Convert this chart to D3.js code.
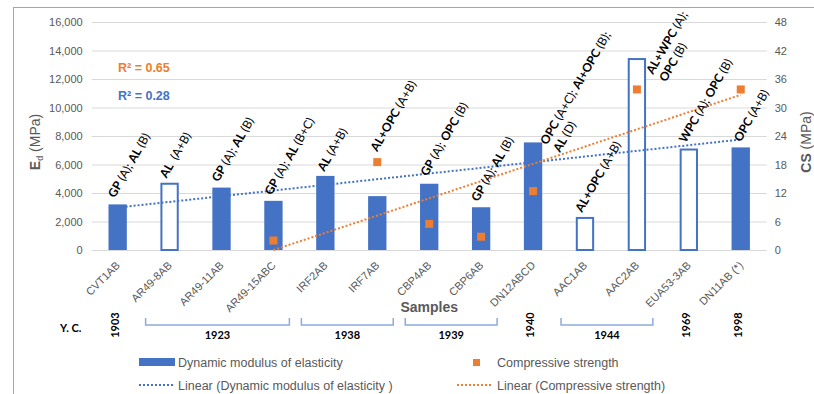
<!DOCTYPE html>
<html>
<head>
<meta charset="utf-8">
<script src="https://cdn.jsdelivr.net/npm/d3@7"></script>
<style>
    body { margin: 0; background: #fff; }
    svg text { font-family: "Liberation Sans", Arial, sans-serif; fill: #595959; }
    .note text, .years text { font-family: Lato, "Open Sans", sans-serif; fill: #000; white-space: pre; }
</style>
</head>
<body>
<div id="chart"></div>
<script>
// sample names along the x axis
var samples = ["CVT1AB", "AR49-8AB", "AR49-11AB", "AR49-15ABC", "IRF2AB", "IRF7AB", "CBP4AB",
    "CBP6AB", "DN12ABCD", "AAC1AB", "AAC2AB", "EUA53-3AB", "DN11AB (*)"];

// dynamic modulus of elasticity (MPa), left axis
var modulus = [3200, 4650, 4380, 3450, 5200, 3780, 4650, 3000, 7550, 2250, 13400, 7050, 7200];

// which bars are drawn as outlines only
var hollow = [false, true, false, false, false, false, false, false, false, true, true, true, false];

// compressive strength (MPa), right axis, null = not tested
var strength = [null, null, null, 2.0, null, 18.5, 5.5, 2.8, 12.4, null, 33.8, null, 33.8];

// mortar notes above the bars, **bold**
var notes = [
    "**GP** (A); **AL** (B)",
    "**AL**  (A+B)",
    "**GP** (A); **AL** (B)",
    "**GP** (A); **AL** (B+C)",
    "**AL** (A+B)",
    "**AL+OPC** (A+B)",
    "**GP** (A); **OPC** (B)",
    "**GP** (A); **AL** (B)",
    "**OPC** (A+C); **AI+OPC** (B);\n**AL** (D)",
    "**AL+OPC** (A+B)",
    "**AL+WPC** (A);\n**OPC** (B)",
    "**WPC** (A); **OPC** (B)",
    "**OPC** (A+B)"
];

// year of construction, by sample index range
var yearLabels = ["1903", "1923", "1938", "1939", "1940", "1944", "1969", "1998"];
var yearFrom = [0, 1, 4, 6, 8, 9, 11, 12];
var yearTo = [0, 3, 5, 7, 8, 10, 11, 12];

var r2Strength = "0.65";
var r2Modulus = "0.28";

var leftTicks = d3.range(0, 16001, 2000);
var rightTicks = d3.range(0, 49, 6);

// layout
var svgWidth = 814;
var svgHeight = 394;
var plot = { left: 91.7, right: 766.7, top: 22, bottom: 250 };
var blue = "#4472c4";
var orange = "#ed7d31";

// where each note starts, relative to the bar top centre
var noteShift = [[-3, -6], [-3, -5], [-3, -5], [-2, -5], [-1, -4], [0, -44], [-2, -7],
    [-3, -5], [14, 3], [-3, -5], [16, 16], [-3, -6], [0, -5]];

var svg = d3.select("#chart")
    .append("svg")
    .attr("width", svgWidth)
    .attr("height", svgHeight);

svg.append("rect")
    .attr("x", 13.5).attr("y", 7.5)
    .attr("width", 900).attr("height", 500)
    .attr("fill", "#fff")
    .attr("stroke", "#a6a6a6");

var x = d3.scaleBand().domain(samples).range([plot.left, plot.right]).padding(0);
var yLeft = d3.scaleLinear().domain([0, 16000]).range([plot.bottom, plot.top]);
var yRight = d3.scaleLinear().domain([0, 48]).range([plot.bottom, plot.top]);
var barW = x.bandwidth() * 0.353;
var cx = function (i) { return x(samples[i]) + x.bandwidth() / 2; };

// left axis with gridlines
var leftAxis = svg.append("g")
    .attr("transform", `translate(${plot.left},0)`)
    .call(d3.axisLeft(yLeft).tickValues(leftTicks).tickFormat(d3.format(","))
        .tickSizeInner(-(plot.right - plot.left)).tickSizeOuter(0).tickPadding(9));
leftAxis.select(".domain").remove();
leftAxis.selectAll("line").attr("stroke", "#d9d9d9");
leftAxis.selectAll("text").attr("font-size", 11).attr("fill", "#595959");

var rightAxis = svg.append("g")
    .attr("transform", `translate(${plot.right},0)`)
    .call(d3.axisRight(yRight).tickValues(rightTicks).tickSize(0).tickPadding(8));
rightAxis.select(".domain").remove();
rightAxis.selectAll("text").attr("font-size", 11).attr("fill", "#595959");

var bottomAxis = svg.append("g")
    .attr("transform", `translate(0,${plot.bottom})`)
    .call(d3.axisBottom(x).tickSize(0));
bottomAxis.select(".domain").remove();
bottomAxis.selectAll("text")
    .attr("font-size", 11)
    .attr("fill", "#595959")
    .attr("x", 0).attr("y", 0).attr("dy", 0)
    .attr("text-anchor", "end")
    .attr("transform", "translate(3,16) rotate(-45)");

// bars
svg.selectAll("rect.bar")
    .data(modulus)
    .enter()
    .append("rect")
    .attr("class", "bar")
    .attr("x", (d, i) => cx(i) - barW / 2 + (hollow[i] ? 1 : 0))
    .attr("width", (d, i) => barW - (hollow[i] ? 2 : 0))
    .attr("y", d => yLeft(d))
    .attr("height", d => plot.bottom - yLeft(d))
    .attr("fill", (d, i) => hollow[i] ? "#fff" : blue)
    .attr("stroke", blue)
    .attr("stroke-width", (d, i) => hollow[i] ? 2 : 0);

// linear trendlines (least squares on category number, like Excel)
function trend(values) {
    var pts = [];
    values.forEach(function (v, i) { if (v !== null) pts.push([i + 1, v]); });
    var mx = d3.mean(pts, p => p[0]);
    var my = d3.mean(pts, p => p[1]);
    var sxy = d3.sum(pts, p => (p[0] - mx) * (p[1] - my));
    var sxx = d3.sum(pts, p => (p[0] - mx) * (p[0] - mx));
    var slope = sxy / sxx;
    var first = pts[0][0], last = pts[pts.length - 1][0];
    return [[first - 1, my + slope * (first - mx)], [last - 1, my + slope * (last - mx)]];
}

var modTrend = trend(modulus);
var csTrend = trend(strength);

svg.append("path")
    .attr("d", d3.line().x(p => cx(p[0])).y(p => yLeft(p[1]))(modTrend))
    .attr("stroke", blue).attr("stroke-width", 2).attr("stroke-dasharray", "2,2").attr("fill", "none");

svg.append("path")
    .attr("d", d3.line().x(p => cx(p[0])).y(p => yRight(p[1]))(csTrend))
    .attr("stroke", orange).attr("stroke-width", 2).attr("stroke-dasharray", "2,2").attr("fill", "none");

// compressive strength markers
svg.selectAll("rect.cs")
    .data(strength.map((v, i) => ({ v: v, i: i })).filter(d => d.v !== null))
    .enter()
    .append("rect")
    .attr("class", "cs")
    .attr("x", d => cx(d.i) - 4)
    .attr("y", d => yRight(d.v) - 4)
    .attr("width", 8).attr("height", 8)
    .attr("fill", orange);

// notes
function richLine(textSel, str) {
    str.split("**").forEach(function (part, k) {
        if (!part) return;
        textSel.append("tspan").attr("font-weight", k % 2 ? "bold" : "normal").text(part);
    });
}

var noteGroup = svg.append("g").attr("class", "note");
notes.forEach(function (n, i) {
    var g = noteGroup.append("g")
        .attr("transform", `translate(${cx(i) + noteShift[i][0]},${yLeft(modulus[i]) + noteShift[i][1]}) rotate(-60)`);
    n.split("\n").forEach(function (line, li) {
        var t = g.append("text").attr("x", 0).attr("y", li * 15).attr("font-size", 12);
        richLine(t, line);
    });
});

// R squared
svg.append("text").attr("x", 118).attr("y", 72)
    .attr("font-family", "Lato, sans-serif").attr("font-weight", "bold").attr("font-size", 12.5)
    .style("fill", orange).text("R² = " + r2Strength);
svg.append("text").attr("x", 118).attr("y", 100)
    .attr("font-family", "Lato, sans-serif").attr("font-weight", "bold").attr("font-size", 12.5)
    .style("fill", blue).text("R² = " + r2Modulus);

// axis titles
var yTitle = svg.append("text")
    .attr("transform", "translate(40,142) rotate(-90)")
    .attr("text-anchor", "middle").attr("font-size", 14);
yTitle.append("tspan").attr("font-weight", "bold").text("E");
yTitle.append("tspan").attr("font-size", 9).attr("dy", 3).text("d");
yTitle.append("tspan").attr("dy", -3).text(" (MPa)");

var y2Title = svg.append("text")
    .attr("transform", "translate(811,142) rotate(-90)")
    .attr("text-anchor", "middle").attr("font-size", 14);
y2Title.append("tspan").attr("font-weight", "bold").text("CS");
y2Title.append("tspan").text(" (MPa)");

svg.append("text")
    .attr("x", (plot.left + plot.right) / 2).attr("y", 312)
    .attr("text-anchor", "middle").attr("font-size", 14).attr("font-weight", "bold")
    .text("Samples");

// year of construction row
var yearGroup = svg.append("g").attr("class", "years");
yearGroup.append("text").attr("x", 60).attr("y", 332)
    .attr("font-size", 11).attr("font-weight", "bold").text("Y. C.");

yearLabels.forEach(function (yr, k) {
    if (yearFrom[k] === yearTo[k]) {
        yearGroup.append("text")
            .attr("transform", `translate(${cx(yearFrom[k]) + 1},325) rotate(-90)`)
            .attr("text-anchor", "middle").attr("font-size", 11).attr("font-weight", "bold")
            .text(yr);
    } else {
        var x0 = x(samples[yearFrom[k]]) + 2;
        var x1 = x(samples[yearTo[k]]) + x.bandwidth() - 10;
        yearGroup.append("path")
            .attr("d", `M${x0},318V325H${x1}V318`)
            .attr("fill", "none").attr("stroke", "#8faadc").attr("stroke-width", 1.5);
        yearGroup.append("text")
            .attr("x", (x0 + x1) / 2).attr("y", 339)
            .attr("text-anchor", "middle").attr("font-size", 11).attr("font-weight", "bold")
            .text(yr);
    }
});

// legend
var legend = svg.append("g").attr("font-size", 12.5);
legend.append("rect").attr("x", 139).attr("y", 358).attr("width", 36).attr("height", 8).attr("fill", blue);
legend.append("text").attr("x", 178).attr("y", 366.5).text("Dynamic modulus of elasticity");
legend.append("line").attr("x1", 139).attr("x2", 175).attr("y1", 385).attr("y2", 385)
    .attr("stroke", blue).attr("stroke-width", 2).attr("stroke-dasharray", "2,2");
legend.append("text").attr("x", 178).attr("y", 389.5).text("Linear (Dynamic modulus of elasticity )");
legend.append("rect").attr("x", 473).attr("y", 359).attr("width", 7).attr("height", 7).attr("fill", orange);
legend.append("text").attr("x", 497).attr("y", 366.5).text("Compressive strength");
legend.append("line").attr("x1", 457).attr("x2", 493).attr("y1", 385).attr("y2", 385)
    .attr("stroke", orange).attr("stroke-width", 2).attr("stroke-dasharray", "2,2");
legend.append("text").attr("x", 497).attr("y", 389.5).text("Linear (Compressive strength)");
</script>
</body>
</html>
